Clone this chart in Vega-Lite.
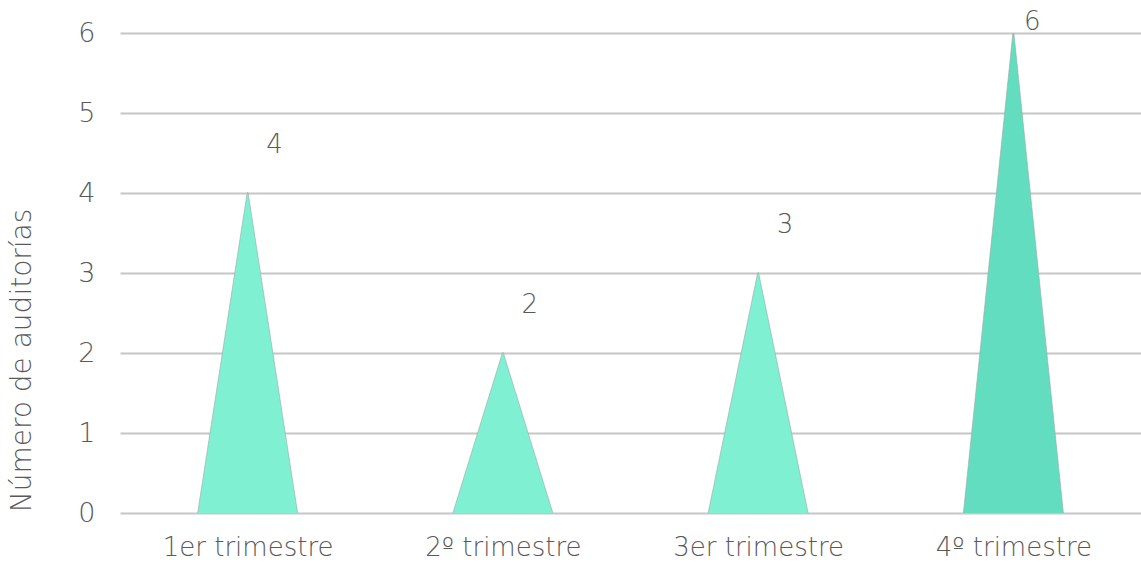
{
  "$schema": "https://vega.github.io/schema/vega-lite/v6.json",
  "width": 1021,
  "height": 480,
  "autosize": {"type": "none"},
  "padding": {"left": 120, "top": 33, "right": 0, "bottom": 51},
  "background": "white",
  "config": {
    "view": {"stroke": null},
    "font": "DejaVu Sans",
    "axis": {
      "labelFont": "DejaVu Sans",
      "labelFontWeight": 200,
      "labelColor": "#595959",
      "labelFontSize": 26,
      "titleFont": "DejaVu Sans",
      "titleFontWeight": 200,
      "titleColor": "#595959",
      "titleFontSize": 28
    }
  },
  "data": {
    "values": [
      {"trimestre": "1er trimestre", "base": 0, "auditorias": 4},
      {"trimestre": "2º trimestre", "base": 0, "auditorias": 2},
      {"trimestre": "3er trimestre", "base": 0, "auditorias": 3},
      {"trimestre": "4º trimestre", "base": 0, "auditorias": 6}
    ]
  },
  "encoding": {
    "x": {
      "field": "trimestre",
      "type": "nominal",
      "sort": null,
      "scale": {"type": "point", "padding": 0.5},
      "axis": {
        "title": null,
        "domain": false,
        "ticks": false,
        "grid": false,
        "labelAngle": 0,
        "labelPadding": 21
      }
    }
  },
  "layer": [
    {
      "transform": [{"fold": ["base", "auditorias"], "as": ["punto", "valor"]}],
      "mark": {"type": "trail", "clip": true, "stroke": "#9aa9a4", "strokeWidth": 0.6},
      "encoding": {
        "y": {
          "field": "valor",
          "type": "quantitative",
          "scale": {"domain": [0, 6], "nice": false},
          "axis": {
            "title": "Número de auditorías",
            "values": [0, 1, 2, 3, 4, 5, 6],
            "format": "d",
            "domain": false,
            "ticks": false,
            "labelPadding": 25,
            "labelFontSize": 27,
            "grid": true,
            "gridColor": "#c6c6c6",
            "gridWidth": 2,
            "titleAngle": 270,
            "titleAlign": "center",
            "titleBaseline": "middle",
            "titleX": -98,
            "titleY": 327
          }
        },
        "detail": {"field": "trimestre"},
        "order": {"field": "valor"},
        "size": {
          "condition": {"test": "datum.punto === 'base'", "value": 100},
          "value": 0
        },
        "color": {
          "field": "trimestre",
          "type": "nominal",
          "sort": null,
          "scale": {"range": ["#7ff0d2", "#7ff0d2", "#7ff0d2", "#63ddbf"]},
          "legend": null
        }
      }
    },
    {
      "transform": [{"filter": "datum.auditorias < 6"}],
      "mark": {"type": "text", "dx": 27, "dy": -48, "fontSize": 26, "fontWeight": 200, "fill": "#595959", "font": "DejaVu Sans"},
      "encoding": {
        "y": {"field": "auditorias", "type": "quantitative"},
        "text": {"field": "auditorias", "type": "quantitative"}
      }
    },
    {
      "transform": [{"filter": "datum.auditorias >= 6"}],
      "mark": {"type": "text", "dx": 19, "dy": -11, "fontSize": 26, "fontWeight": 200, "fill": "#595959", "font": "DejaVu Sans"},
      "encoding": {
        "y": {"field": "auditorias", "type": "quantitative"},
        "text": {"field": "auditorias", "type": "quantitative"}
      }
    }
  ]
}
